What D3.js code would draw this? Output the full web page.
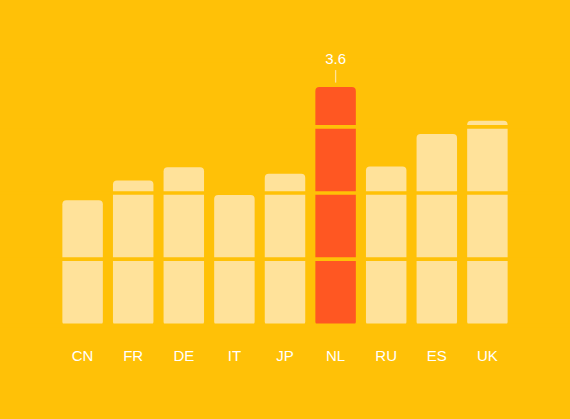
<!DOCTYPE html>
<html>
<head>
<meta charset="utf-8">
<script src="https://cdn.jsdelivr.net/npm/d3@7"></script>
<style>
  html, body { margin: 0; padding: 0; background: #FFC107; }
  svg { display: block; font-family: "Liberation Sans", Arial, sans-serif; }
</style>
</head>
<body>
<div class="chart"></div>
<script>
// Country values
const countries = ['CN', 'FR', 'DE', 'IT', 'JP', 'NL', 'RU', 'ES', 'UK'];
const values = [1.89, 2.19, 2.39, 1.97, 2.29, 3.6, 2.40, 2.89, 3.09];
const gridValues = [0, 1, 2, 3, 4];
const highlight = 'NL';

const width = 570;
const height = 419;

const svg = d3.select('.chart')
    .append('svg')
    .attr('width', width)
    .attr('height', height);

svg.append('rect')
    .attr('width', width)
    .attr('height', height)
    .attr('fill', '#FFC107');

const data = countries.map((c, i) => ({ name: c, value: values[i] }));

const xScale = d3.scaleBand()
    .domain(countries)
    .range([57.3, 512.7])
    .paddingInner(0.2)
    .paddingOuter(0.1);

const yScale = d3.scaleLinear()
    .domain([0, 4])
    .range([325.4, 60.6]);

// Bars
svg.selectAll('.bar')
    .data(data)
    .enter()
    .append('rect')
    .attr('class', 'bar')
    .attr('x', d => xScale(d.name))
    .attr('y', d => yScale(d.value))
    .attr('width', xScale.bandwidth())
    .attr('height', d => yScale(0) - yScale(d.value))
    .attr('rx', 4)
    .attr('ry', 4)
    .attr('fill', d => d.name === highlight ? '#FF5722' : '#FFE29A');

// Grid lines cut through the bars in background colour
svg.selectAll('.grid')
    .data(gridValues)
    .enter()
    .append('line')
    .attr('class', 'grid')
    .attr('x1', 0)
    .attr('x2', width)
    .attr('y1', d => yScale(d))
    .attr('y2', d => yScale(d))
    .style('stroke', '#FFC107')
    .style('stroke-width', 3.7);

// X axis labels
const xAxis = svg.append('g')
    .attr('transform', 'translate(0,361)')
    .call(d3.axisBottom(xScale).tickSize(0).tickPadding(0));

xAxis.select('.domain').remove();
xAxis.selectAll('text')
    .attr('dy', 0)
    .style('font-size', '15px')
    .style('fill', '#FFFFFF')
    .style('font-family', '"Liberation Sans", Arial, sans-serif');

// Highlight label
const hl = data.find(d => d.name === highlight);
const cx = xScale(hl.name) + xScale.bandwidth() / 2;

svg.append('line')
    .attr('x1', cx)
    .attr('x2', cx)
    .attr('y1', yScale(hl.value) - 4.5)
    .attr('y2', yScale(hl.value) - 17)
    .style('stroke', '#FFE29A')
    .style('stroke-width', 1.3);

svg.append('text')
    .attr('x', cx)
    .attr('y', yScale(hl.value) - 23)
    .attr('text-anchor', 'middle')
    .style('font-size', '15px')
    .style('fill', '#FFFFFF')
    .text(hl.value.toFixed(1));
</script>
</body>
</html>
